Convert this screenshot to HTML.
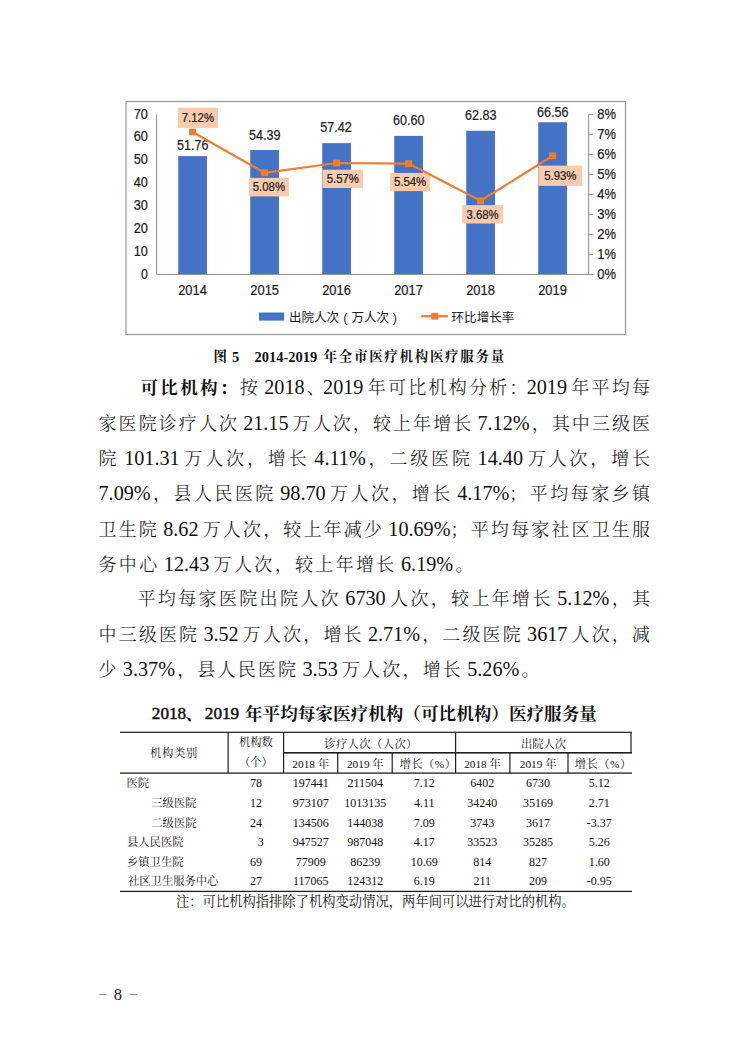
<!DOCTYPE html>
<html lang="zh-CN">
<head>
<meta charset="utf-8">
<title>医疗服务量</title>
<style>
html,body{margin:0;padding:0;background:#fff;}
body{width:750px;height:1060px;position:relative;overflow:hidden;color:#111;
 font-family:"Liberation Serif","Noto Serif CJK SC",serif;}
.chart{position:absolute;left:0;top:0;}
.cap{position:absolute;left:0;width:750px;top:347px;height:20px;font-weight:bold;}
.cap span{position:absolute;top:0;height:20px;line-height:20px;white-space:nowrap;}
.ln{position:absolute;height:40px;line-height:40px;font-size:18px;font-weight:300;word-spacing:-2.5px;white-space:nowrap;
 text-align:justify;text-align-last:justify;text-justify:inter-character;}
.ln .d{font-size:20.2px;line-height:0;}
.ln b{font-weight:bold;font-size:17.6px;letter-spacing:0;margin-left:3px;}
.tt{position:absolute;left:0;width:750px;top:701px;height:26px;font-size:17.6px;font-weight:700;}
.tt span{position:absolute;top:0;height:26px;line-height:26px;white-space:nowrap;}
.tt .n{font-weight:400;-webkit-text-stroke:0.5px #111;font-size:17.2px;}
.l{position:absolute;display:block;background:#1e1e1e;}
.c,.cl{position:absolute;height:20px;line-height:20px;font-size:11.3px;white-space:nowrap;}
.c{width:120px;text-align:center;}
.c.n{font-size:12px;}
.note{position:absolute;left:176px;top:891px;height:22px;line-height:22px;font-size:13.3px;white-space:nowrap;}
.pg{position:absolute;left:0;top:983px;width:300px;height:24px;font-size:16.6px;color:#222;}
.pg span{position:absolute;top:0;height:24px;line-height:24px;white-space:nowrap;}
.pg .d{font-size:14.2px;top:-2px;color:#777;}
</style>
</head>
<body>
<svg class="chart" width="750" height="345" viewBox="0 0 750 345">
<rect x="126" y="101.5" width="499.5" height="233" fill="#fff" stroke="#9c9c9c" stroke-width="1.25"/>
<rect x="178.25" y="156.09" width="28.7" height="118.31" fill="#4472c4"/>
<rect x="250.25" y="150.08" width="28.7" height="124.32" fill="#4472c4"/>
<rect x="322.25" y="143.15" width="28.7" height="131.25" fill="#4472c4"/>
<rect x="394.25" y="135.89" width="28.7" height="138.51" fill="#4472c4"/>
<rect x="466.25" y="130.79" width="28.7" height="143.61" fill="#4472c4"/>
<rect x="538.25" y="122.26" width="28.7" height="152.14" fill="#4472c4"/>
<g stroke="#8a8a8a" stroke-width="1" fill="none">
<path d="M156.6 114.4 V274.4 H588.7 V114.4"/>
<path d="M588.7 274.40 h4.6"/>
<path d="M588.7 254.40 h4.6"/>
<path d="M588.7 234.40 h4.6"/>
<path d="M588.7 214.40 h4.6"/>
<path d="M588.7 194.40 h4.6"/>
<path d="M588.7 174.40 h4.6"/>
<path d="M588.7 154.40 h4.6"/>
<path d="M588.7 134.40 h4.6"/>
<path d="M588.7 114.40 h4.6"/>
</g>
<g font-family="Liberation Sans, sans-serif" font-size="14.1" fill="#1c1c1c" stroke="#1c1c1c" stroke-width="0.22">
<text x="141.0" y="278.55" textLength="6.9" lengthAdjust="spacingAndGlyphs">0</text>
<text x="133.7" y="255.69" textLength="14.2" lengthAdjust="spacingAndGlyphs">10</text>
<text x="133.7" y="232.84" textLength="14.2" lengthAdjust="spacingAndGlyphs">20</text>
<text x="133.7" y="209.98" textLength="14.2" lengthAdjust="spacingAndGlyphs">30</text>
<text x="133.7" y="187.12" textLength="14.2" lengthAdjust="spacingAndGlyphs">40</text>
<text x="133.7" y="164.26" textLength="14.2" lengthAdjust="spacingAndGlyphs">50</text>
<text x="133.7" y="141.41" textLength="14.2" lengthAdjust="spacingAndGlyphs">60</text>
<text x="133.7" y="118.55" textLength="14.2" lengthAdjust="spacingAndGlyphs">70</text>
<text x="597.2" y="278.55" textLength="18.7" lengthAdjust="spacingAndGlyphs">0%</text>
<text x="597.2" y="258.55" textLength="18.7" lengthAdjust="spacingAndGlyphs">1%</text>
<text x="597.2" y="238.55" textLength="18.7" lengthAdjust="spacingAndGlyphs">2%</text>
<text x="597.2" y="218.55" textLength="18.7" lengthAdjust="spacingAndGlyphs">3%</text>
<text x="597.2" y="198.55" textLength="18.7" lengthAdjust="spacingAndGlyphs">4%</text>
<text x="597.2" y="178.55" textLength="18.7" lengthAdjust="spacingAndGlyphs">5%</text>
<text x="597.2" y="158.55" textLength="18.7" lengthAdjust="spacingAndGlyphs">6%</text>
<text x="597.2" y="138.55" textLength="18.7" lengthAdjust="spacingAndGlyphs">7%</text>
<text x="597.2" y="118.55" textLength="18.7" lengthAdjust="spacingAndGlyphs">8%</text>
<text x="178.2" y="294.7" textLength="28.7" lengthAdjust="spacingAndGlyphs">2014</text>
<text x="250.3" y="294.7" textLength="28.7" lengthAdjust="spacingAndGlyphs">2015</text>
<text x="322.2" y="294.7" textLength="28.7" lengthAdjust="spacingAndGlyphs">2016</text>
<text x="394.2" y="294.7" textLength="28.7" lengthAdjust="spacingAndGlyphs">2017</text>
<text x="466.2" y="294.7" textLength="28.7" lengthAdjust="spacingAndGlyphs">2018</text>
<text x="538.2" y="294.7" textLength="28.7" lengthAdjust="spacingAndGlyphs">2019</text>
<text x="176.9" y="150.1" textLength="31.5" lengthAdjust="spacingAndGlyphs">51.76</text>
<text x="248.9" y="139.5" textLength="31.5" lengthAdjust="spacingAndGlyphs">54.39</text>
<text x="320.2" y="132.3" textLength="31.5" lengthAdjust="spacingAndGlyphs">57.42</text>
<text x="392.9" y="125.1" textLength="31.5" lengthAdjust="spacingAndGlyphs">60.60</text>
<text x="464.9" y="120.2" textLength="31.5" lengthAdjust="spacingAndGlyphs">62.83</text>
<text x="536.9" y="117.2" textLength="31.5" lengthAdjust="spacingAndGlyphs">66.56</text>
</g>
<rect x="177.8" y="107.7" width="40.2" height="20.2" fill="#f8cbad"/>
<rect x="248.9" y="177.9" width="40.0" height="18.5" fill="#f8cbad"/>
<rect x="322.6" y="169.7" width="40.4" height="18.3" fill="#f8cbad"/>
<rect x="390.1" y="172.9" width="40.0" height="18.2" fill="#f8cbad"/>
<rect x="462.3" y="205.1" width="40.7" height="18.4" fill="#f8cbad"/>
<rect x="538.5" y="165.6" width="43.7" height="20.3" fill="#f8cbad"/>
<polyline fill="none" stroke="#ed7d31" stroke-width="2.2" stroke-linejoin="round" points="192.6,132.0 264.6,172.8 336.6,163.0 408.6,163.6 480.6,200.8 552.6,155.8"/>
<rect x="189.1" y="128.6" width="7" height="6.8" fill="#ed7d31"/>
<rect x="261.1" y="169.4" width="7" height="6.8" fill="#ed7d31"/>
<rect x="333.1" y="159.6" width="7" height="6.8" fill="#ed7d31"/>
<rect x="405.1" y="160.2" width="7" height="6.8" fill="#ed7d31"/>
<rect x="477.1" y="197.4" width="7" height="6.8" fill="#ed7d31"/>
<rect x="549.1" y="152.4" width="7" height="6.8" fill="#ed7d31"/>
<g font-family="Liberation Sans, sans-serif" font-size="14.1" fill="#1c1c1c" stroke="#1c1c1c" stroke-width="0.22">
<text x="181.8" y="122.0" font-size="12.3" textLength="32.2" lengthAdjust="spacingAndGlyphs">7.12%</text>
<text x="252.8" y="191.3" font-size="12.3" textLength="32.2" lengthAdjust="spacingAndGlyphs">5.08%</text>
<text x="326.7" y="183.0" font-size="12.3" textLength="32.2" lengthAdjust="spacingAndGlyphs">5.57%</text>
<text x="394.0" y="186.2" font-size="12.3" textLength="32.2" lengthAdjust="spacingAndGlyphs">5.54%</text>
<text x="466.5" y="218.5" font-size="12.3" textLength="32.2" lengthAdjust="spacingAndGlyphs">3.68%</text>
<text x="544.2" y="179.9" font-size="12.3" textLength="32.2" lengthAdjust="spacingAndGlyphs">5.93%</text>
</g>
<rect x="259" y="312.5" width="25.1" height="8.1" fill="#4472c4"/>
<path d="M421.2 316.2 H447.9" stroke="#ed7d31" stroke-width="2.2"/>
<rect x="431.3" y="312.8" width="7" height="6.8" fill="#ed7d31"/>
<g font-family="Liberation Sans, Noto Sans CJK SC, sans-serif" font-size="12.5" fill="#1c1c1c">
<text y="321.5"><tspan x="289">出院人次</tspan><tspan x="343.3">(</tspan><tspan x="351.5">万人次</tspan><tspan x="392.8">)</tspan></text>
<text x="451.6" y="321.5" textLength="62.6" lengthAdjust="spacing">环比增长率</text>
</g>
</svg>
<div class="cap"><span style="left:213.5px;font-size:13.4px">图</span><span style="left:232px;font-size:14.5px">5</span><span style="left:254.5px;font-size:14.5px">2014-2019</span><span style="left:323.6px;font-size:13.4px;letter-spacing:1.8px">年全市医疗机构医疗服务量</span></div>
<div class="ln" style="top:368px;left:137.5px;width:512.5px"><b>可比机构：</b>按 <span class="d">2018</span><span style="margin-right:-4px">、</span><span class="d">2019</span> 年可比机构分析<span class="p" style="margin-right:-3px">：</span><span class="d">2019</span> 年平均每</div>
<div class="ln" style="top:404px;left:98.5px;width:551.5px">家医院诊疗人次 <span class="d">21.15</span> 万人次，较上年增长 <span class="d">7.12%</span>，其中三级医</div>
<div class="ln" style="top:439px;left:98.5px;width:551.5px">院 <span class="d">101.31</span> 万人次，增长 <span class="d">4.11%</span>，二级医院 <span class="d">14.40</span> 万人次，增长</div>
<div class="ln" style="top:474px;left:98.5px;width:551.5px"><span class="d">7.09%</span>，县人民医院 <span class="d">98.70</span> 万人次，增长 <span class="d">4.17%</span>；平均每家乡镇</div>
<div class="ln" style="top:510px;left:98.5px;width:551.5px">卫生院 <span class="d">8.62</span> 万人次，较上年减少 <span class="d">10.69%</span>；平均每家社区卫生服</div>
<div class="ln" style="top:545px;left:98.5px;width:375px">务中心 <span class="d">12.43</span> 万人次，较上年增长 <span class="d">6.19%</span>。</div>
<div class="ln" style="top:579px;left:137.5px;width:512.5px">平均每家医院出院人次 <span class="d">6730</span> 人次，较上年增长 <span class="d">5.12%</span>，其</div>
<div class="ln" style="top:615px;left:98.5px;width:551.5px">中三级医院 <span class="d">3.52</span> 万人次，增长 <span class="d">2.71%</span>，二级医院 <span class="d">3617</span> 人次，减</div>
<div class="ln" style="top:650px;left:98.5px;width:441px">少 <span class="d">3.37%</span>，县人民医院 <span class="d">3.53</span> 万人次，增长 <span class="d">5.26%</span>。</div>
<div class="tt"><span class="n" style="left:151.8px">2018</span><span style="left:185.5px">、</span><span class="n" style="left:204.8px">2019</span><span style="left:245px">年平均每家医疗机构（可比机构）医疗服务量</span></div>
<i class="l" style="left:120px;top:731px;width:512px;height:1px;opacity:0.30"></i>
<i class="l" style="left:120px;top:732px;width:512px;height:1px;opacity:0.90"></i>
<i class="l" style="left:120px;top:772px;width:512px;height:1px;opacity:0.55"></i>
<i class="l" style="left:120px;top:773px;width:512px;height:1px;opacity:0.75"></i>
<i class="l" style="left:120px;top:890px;width:512px;height:1px;opacity:0.25"></i>
<i class="l" style="left:120px;top:891px;width:512px;height:1px;opacity:1.00"></i>
<i class="l" style="left:120px;top:892px;width:512px;height:1px;opacity:0.05"></i>
<i class="l" style="left:284px;top:752px;width:348px;height:1px;opacity:1.00"></i>
<i class="l" style="left:284px;top:753px;width:348px;height:1px;opacity:0.60"></i>
<i class="l" style="left:227px;top:732px;width:1px;height:41px;opacity:0.50"></i>
<i class="l" style="left:228px;top:732px;width:1px;height:41px;opacity:0.70"></i>
<i class="l" style="left:283px;top:732px;width:1px;height:41px;opacity:1.00"></i>
<i class="l" style="left:284px;top:732px;width:1px;height:41px;opacity:0.20"></i>
<i class="l" style="left:337px;top:753px;width:1px;height:20px;opacity:0.90"></i>
<i class="l" style="left:338px;top:753px;width:1px;height:20px;opacity:0.30"></i>
<i class="l" style="left:391px;top:753px;width:1px;height:20px;opacity:0.40"></i>
<i class="l" style="left:392px;top:753px;width:1px;height:20px;opacity:0.80"></i>
<i class="l" style="left:455px;top:732px;width:1px;height:41px;opacity:1.00"></i>
<i class="l" style="left:456px;top:732px;width:1px;height:41px;opacity:0.20"></i>
<i class="l" style="left:509px;top:753px;width:1px;height:20px;opacity:0.70"></i>
<i class="l" style="left:510px;top:753px;width:1px;height:20px;opacity:0.50"></i>
<i class="l" style="left:567px;top:753px;width:1px;height:20px;opacity:0.60"></i>
<i class="l" style="left:568px;top:753px;width:1px;height:20px;opacity:0.60"></i>
<i class="l" style="left:630px;top:732px;width:1px;height:21px;opacity:0.60"></i>
<i class="l" style="left:631px;top:732px;width:1px;height:21px;opacity:0.60"></i>
<span class="c" style="left:114.0px;top:743px"><span style="letter-spacing:0.7px">机构类别</span></span>
<span class="c" style="left:195.9px;top:732px">机构数</span>
<span class="c" style="left:195.9px;top:752px">（个）</span>
<span class="c" style="left:311.0px;top:734px"><span style="letter-spacing:0.4px">诊疗人次（人次）</span></span>
<span class="c" style="left:483.5px;top:734px">出院人次</span>
<span class="c" style="left:250.7px;top:754px">2018 年</span>
<span class="c" style="left:422.5px;top:754px">2018 年</span>
<span class="c" style="left:305.3px;top:754px">2019 年</span>
<span class="c" style="left:478.1px;top:754px">2019 年</span>
<span class="c" style="left:368.0px;top:754px"><span style="letter-spacing:0.5px">增长（%）</span></span>
<span class="c" style="left:543.2px;top:754px"><span style="letter-spacing:0.5px">增长（%）</span></span>
<span class="cl" style="left:126.5px;top:773px">医院</span>
<span class="c n" style="left:196.1px;top:773px">78</span>
<span class="c n" style="left:250.7px;top:773px">197441</span>
<span class="c n" style="left:305.3px;top:773px">211504</span>
<span class="c n" style="left:364.3px;top:773px">7.12</span>
<span class="c n" style="left:422.2px;top:773px">6402</span>
<span class="c n" style="left:478.1px;top:773px">6730</span>
<span class="c n" style="left:539.3px;top:773px">5.12</span>
<span class="cl" style="left:151.3px;top:793px">三级医院</span>
<span class="c n" style="left:196.1px;top:793px">12</span>
<span class="c n" style="left:250.7px;top:793px">973107</span>
<span class="c n" style="left:305.3px;top:793px">1013135</span>
<span class="c n" style="left:364.3px;top:793px">4.11</span>
<span class="c n" style="left:422.2px;top:793px">34240</span>
<span class="c n" style="left:478.1px;top:793px">35169</span>
<span class="c n" style="left:539.3px;top:793px">2.71</span>
<span class="cl" style="left:151.3px;top:813px">二级医院</span>
<span class="c n" style="left:196.1px;top:813px">24</span>
<span class="c n" style="left:250.7px;top:813px">134506</span>
<span class="c n" style="left:305.3px;top:813px">144038</span>
<span class="c n" style="left:364.3px;top:813px">7.09</span>
<span class="c n" style="left:422.2px;top:813px">3743</span>
<span class="c n" style="left:478.1px;top:813px">3617</span>
<span class="c n" style="left:539.3px;top:813px">-3.37</span>
<span class="cl" style="left:127.0px;top:832px">县人民医院</span>
<span class="c n" style="left:200.7px;top:832px">3</span>
<span class="c n" style="left:250.7px;top:832px">947527</span>
<span class="c n" style="left:305.3px;top:832px">987048</span>
<span class="c n" style="left:364.3px;top:832px">4.17</span>
<span class="c n" style="left:422.2px;top:832px">33523</span>
<span class="c n" style="left:478.1px;top:832px">35285</span>
<span class="c n" style="left:539.3px;top:832px">5.26</span>
<span class="cl" style="left:127.0px;top:852px">乡镇卫生院</span>
<span class="c n" style="left:196.1px;top:852px">69</span>
<span class="c n" style="left:250.7px;top:852px">77909</span>
<span class="c n" style="left:305.3px;top:852px">86239</span>
<span class="c n" style="left:364.3px;top:852px">10.69</span>
<span class="c n" style="left:422.2px;top:852px">814</span>
<span class="c n" style="left:478.1px;top:852px">827</span>
<span class="c n" style="left:539.3px;top:852px">1.60</span>
<span class="cl" style="left:128.0px;top:871px">社区卫生服务中心</span>
<span class="c n" style="left:196.1px;top:871px">27</span>
<span class="c n" style="left:250.7px;top:871px">117065</span>
<span class="c n" style="left:305.3px;top:871px">124312</span>
<span class="c n" style="left:364.3px;top:871px">6.19</span>
<span class="c n" style="left:422.2px;top:871px">211</span>
<span class="c n" style="left:478.1px;top:871px">209</span>
<span class="c n" style="left:539.3px;top:871px">-0.95</span>
<div class="note">注：可比机构指排除了机构变动情况，两年间可以进行对比的机构。</div>
<div class="pg"><span class="d" style="left:99.3px">–</span><span style="left:113.7px">8</span><span class="d" style="left:129.7px">–</span></div>
</body>
</html>
